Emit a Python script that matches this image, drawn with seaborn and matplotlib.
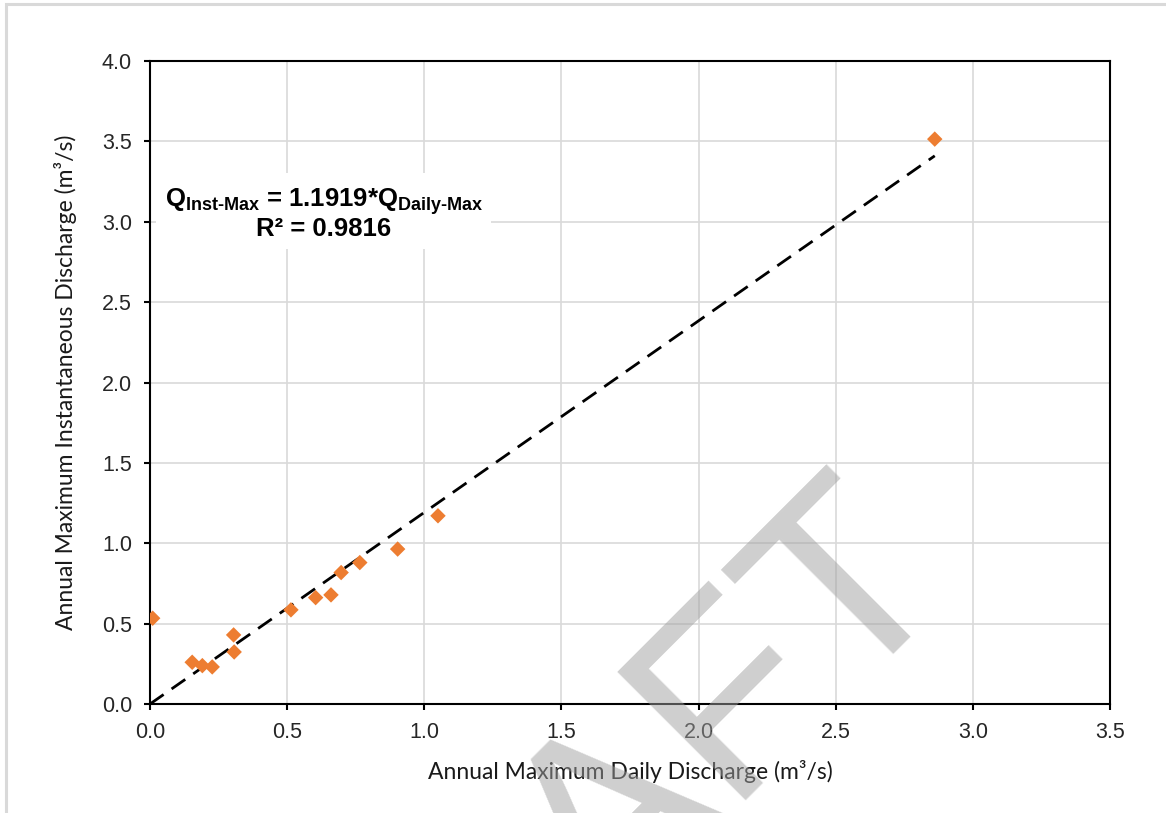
import matplotlib
matplotlib.use("Agg")
import numpy as np
import pandas as pd
import seaborn as sns
from matplotlib import pyplot as plt
from matplotlib.patches import Rectangle

# annual maxima (m3/s)
daily_max = [0.01, 0.154, 0.191, 0.227, 0.305, 0.307, 0.514, 0.604, 0.66,
             0.697, 0.765, 0.903, 1.05, 2.861]
inst_max = [0.534, 0.26, 0.239, 0.231, 0.43, 0.324, 0.586, 0.662, 0.679,
            0.818, 0.88, 0.964, 1.171, 3.514]
SLOPE = 1.1919
R2 = 0.9816

x_ticks = [0.0, 0.5, 1.0, 1.5, 2.0, 2.5, 3.0, 3.5]
y_ticks = [0.0, 0.5, 1.0, 1.5, 2.0, 2.5, 3.0, 3.5, 4.0]

sns.set_theme(style="white")
plt.rcParams["font.family"] = ["Liberation Sans", "DejaVu Sans"]
plt.rcParams["mathtext.fontset"] = "custom"
plt.rcParams["mathtext.rm"] = "Liberation Sans"
plt.rcParams["mathtext.bf"] = "Liberation Sans:bold"
plt.rcParams["mathtext.it"] = "Liberation Sans:italic"

df = pd.DataFrame({"daily": daily_max, "inst": inst_max})
fit = pd.DataFrame({"daily": [0.0, max(daily_max)]})
fit["inst"] = SLOPE * fit["daily"]

fig = plt.figure(figsize=(11.66, 8.13), dpi=100)
ax = fig.add_axes([0.1286, 0.134, 0.8234, 0.791])

sns.lineplot(data=fit, x="daily", y="inst", color="black", linewidth=2.0,
             dashes=False, ax=ax, zorder=3)
ax.lines[0].set_dashes((6, 3.5))
sns.scatterplot(data=df, x="daily", y="inst", marker="D", s=62,
                color="#ED7D31", edgecolor="none", ax=ax, zorder=4)

ax.set_xlim(0, 3.5)
ax.set_ylim(0, 4.0)
ax.set_xticks(x_ticks)
ax.set_yticks(y_ticks)
ax.set_xticklabels([f"{v:.1f}" for v in x_ticks])
ax.set_yticklabels([f"{v:.1f}" for v in y_ticks])
ax.tick_params(axis="both", which="major", direction="out", length=4,
               width=1.5, color="black", labelsize=15.5, pad=9,
               bottom=True, left=True)
ax.grid(True, color="#D9D9D9", linewidth=1.2)
ax.set_axisbelow(True)
for sp in ax.spines.values():
    sp.set_color("black")
    sp.set_linewidth(1.5)

label_font = dict(family=["Lato", "DejaVu Sans"], size=16.5, color="#1a1a1a")
ax.set_xlabel("Annual Maximum Daily Discharge (m³/s)", labelpad=12, **label_font)
ax.set_ylabel("Annual Maximum Instantaneous Discharge (m³/s)", labelpad=18,
              **label_font)

eq = (r"$\mathbf{Q_{Inst‐Max}}$ = " + f"{SLOPE:.4f}" + r"*$\mathbf{Q_{Daily‐Max}}$"
      + "\n" + f"R² = {R2:.4f}")
ax.text(0.634, 3.05, eq, ha="center", va="center", multialignment="center",
        fontsize=18.5, fontweight="bold", color="black", zorder=5,
        linespacing=1.0,
        bbox=dict(facecolor="white", edgecolor="none", pad=6))

# light frame around the chart area
fig.patches.append(Rectangle((6 / 1166, -0.1), 1.2, 1.1 - 4 / 813,
                             transform=fig.transFigure, fill=False,
                             edgecolor="#D9D9D9", linewidth=2.2))

# watermark
fig.text(0.509, -0.026, "DRAFT", rotation=45, rotation_mode="anchor",
         ha="center", va="center", fontsize=190, color="#A0A0A0", alpha=0.5,
         family="Liberation Sans", zorder=10)

fig.savefig("out.png", dpi=100)
